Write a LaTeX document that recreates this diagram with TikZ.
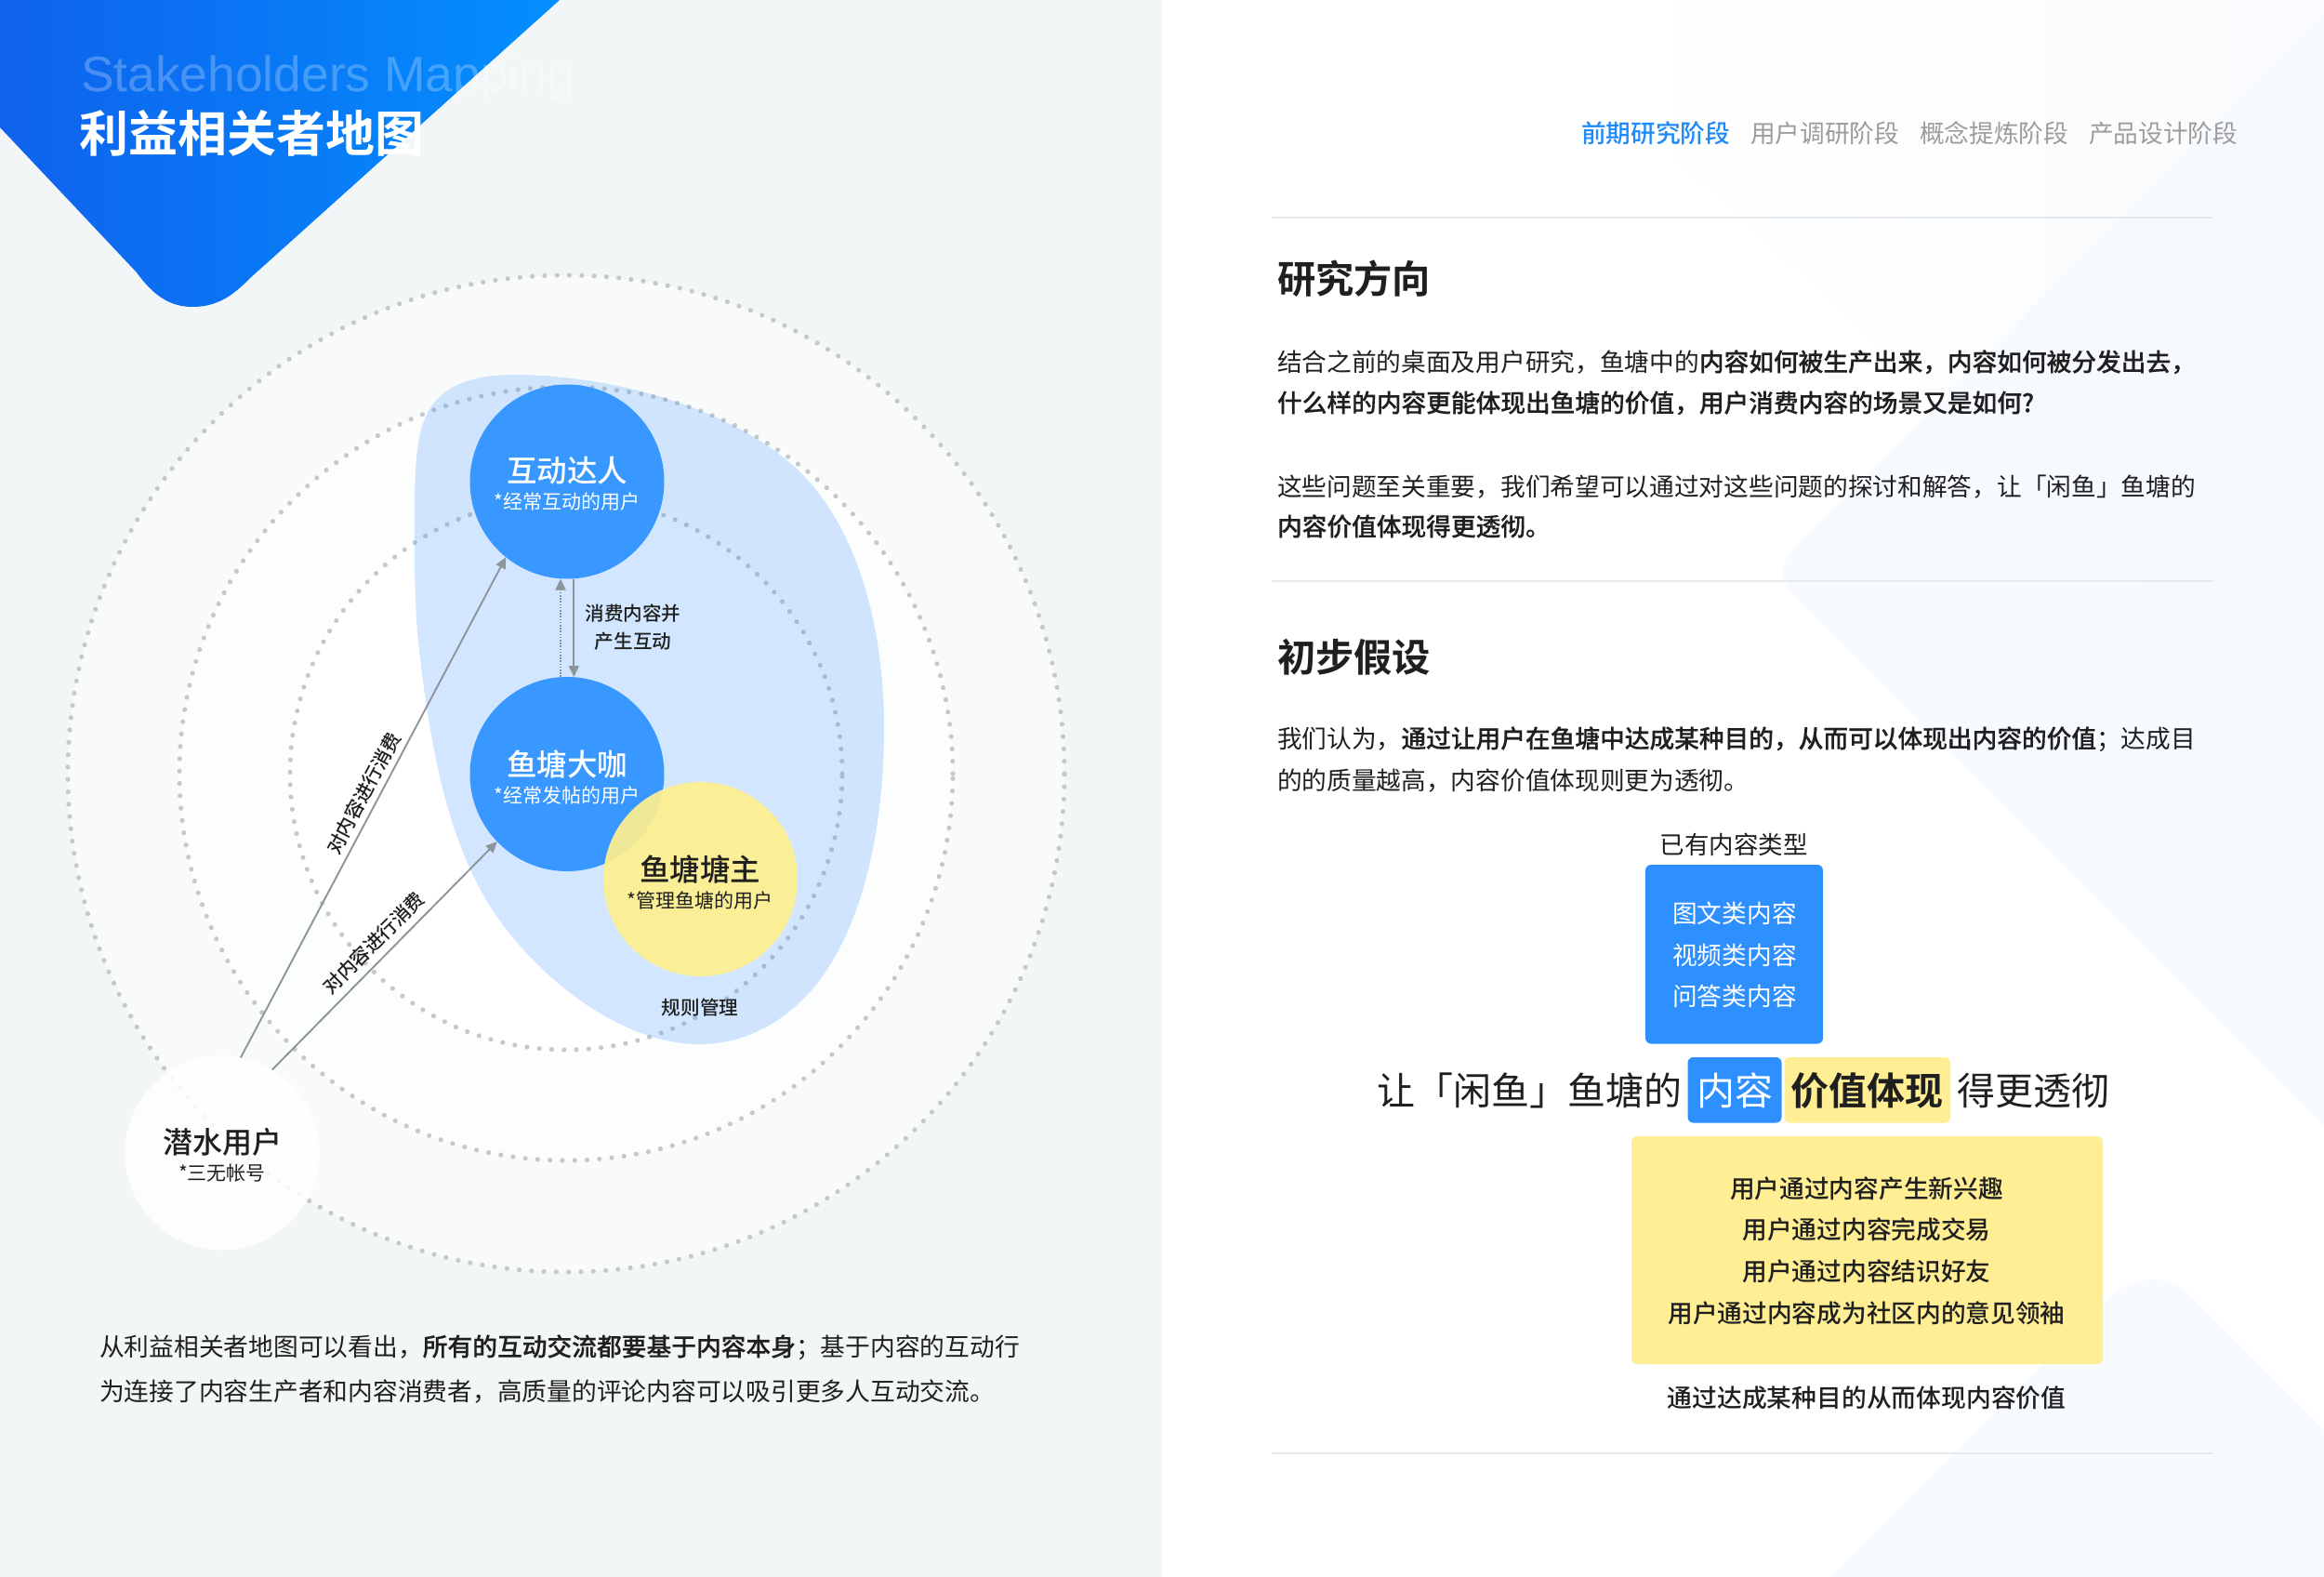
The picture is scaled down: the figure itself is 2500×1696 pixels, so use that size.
\documentclass[tikz,border=0pt]{standalone}
\usepackage{fontspec}
\usetikzlibrary{arrows.meta}
\setmainfont{Noto Sans CJK SC}[BoldFont={Noto Sans CJK SC Medium},BoldFeatures={FakeBold=0.35}]
\newfontfamily\cjkm{Noto Sans CJK SC Medium}
\newfontfamily\cjkb{Noto Sans CJK SC Bold}
\newfontfamily\latinf{Liberation Sans}
\newcommand{\szf}[1]{\fontsize{#1}{#1}\selectfont}
\definecolor{pagebg}{HTML}{F3F6F7}
\definecolor{bluec}{HTML}{3898FF}
\definecolor{boxblue}{HTML}{2E90FF}
\definecolor{yellowc}{HTML}{FEEF8F}
\definecolor{boxyellow}{HTML}{FFEE93}
\definecolor{ink}{HTML}{1F1F1F}
\definecolor{dotc}{HTML}{C6C9CB}
\definecolor{linkc}{HTML}{8D949A}
\definecolor{rulec}{HTML}{E6E9EE}
\definecolor{tabblue}{HTML}{1F8BFA}
\definecolor{tabgray}{HTML}{9C9C9C}
\definecolor{faint}{HTML}{F5F9FE}
\definecolor{fadec}{HTML}{F9FBFE}
\definecolor{ringa}{HTML}{F9FBFB}
\definecolor{ringb}{HTML}{FCFDFD}
\definecolor{grada}{HTML}{0F62EC}
\definecolor{gradb}{HTML}{038FFF}
\tikzset{
  tr/.style={font=\szf{#1}, inner sep=0pt, outer sep=0pt, text height=0.88*#1 pt, text depth=0.12*#1 pt, text=ink},
  tm/.style={font=\cjkm\szf{#1}, inner sep=0pt, outer sep=0pt, text height=0.88*#1 pt, text depth=0.12*#1 pt, text=ink},
  tb/.style={font=\cjkb\szf{#1}, inner sep=0pt, outer sep=0pt, text height=0.88*#1 pt, text depth=0.12*#1 pt, text=ink},
  ring/.style={circle, minimum size=#1, inner sep=0pt, outer sep=0pt, draw=dotc, line width=5.2pt, line cap=round, dash pattern=on 0.01pt off 13.3pt},
  disc/.style={circle, minimum size=209pt, inner sep=0pt, outer sep=0pt},
  link/.style={draw=linkc, line width=1.9pt, -{Triangle[length=12pt,width=11pt]}},
  rule/.style={draw=rulec, line width=2pt},
  bx/.style={rounded corners=6pt, inner sep=0pt, outer sep=0pt},
}
\begin{document}
\begin{tikzpicture}[x=1pt,y=-1pt]
\useasboundingbox (0,0) rectangle (2500,1696);
% pages
\fill[white] (0,0) rectangle (2500,1696);
\fill[pagebg] (0,0) rectangle (1250,1696);
% faint page shapes on the right
\shade[left color=white, right color=fadec] (1700,75) -- (2500,810) -- (2500,0) -- (1700,0) -- cycle;
\fill[faint, opacity=.7] (2500,15) -- (1929,590) .. controls (1915,605) and (1915,625) .. (1929,640) -- (2500,1211) -- cycle;
\fill[faint, opacity=.75] (1969,1696) -- (2270,1395) .. controls (2295,1372) and (2325,1370) .. (2350,1388) -- (2500,1537) -- (2500,1696) -- cycle;
% header triangle
\shade[left color=grada, right color=gradb] (0,0) -- (602,0) -- (268,300) .. controls (246,323) and (228,330) .. (207,330) .. controls (183,330) and (165,318) .. (147,293) -- (0,137) -- cycle;
\node[tr=53.4, font=\latinf\szf{53.4}, text=white, text opacity=.25, anchor=west] (entitle) at (87,78) {Stakeholders Mapping};
\node[tb=53, text=white, anchor=west] (cntitle) at (85,143) {利益相关者地图};
% rings
\node[ring=1072pt, fill=ringa] (r1) at (609,832) {};
\node[ring=832pt, fill=ringb] (r2) at (609,832) {};
\node[ring=594pt, fill=white] (r3) at (609,832) {};
% blob
\fill[boxblue, opacity=.21] (446,574) .. controls (446,510) and (445,460) .. (467,433)
  .. controls (485,410) and (520,403) .. (553,403)
  .. controls (660,403) and (790,440) .. (859,506)
  .. controls (925,570) and (951,680) .. (951,782)
  .. controls (951,900) and (925,1000) .. (878,1059)
  .. controls (840,1105) and (795,1123) .. (752,1123)
  .. controls (680,1123) and (600,1070) .. (545,1000)
  .. controls (490,930) and (465,830) .. (450,690)
  .. controls (446,650) and (446,610) .. (446,574) -- cycle;
% discs
\node[disc, fill=bluec] (top) at (610,518) {};
\node[disc, fill=bluec] (mid) at (610,832.5) {};
\node[disc, fill=yellowc, fill opacity=.92] (own) at (753.5,945.5) {};
\node[disc, fill=white, fill opacity=.85] (lurk) at (239,1240) {};
% disc labels
\node[tm=32.5, text=white] (topa) at (610,506) {互动达人};
\node[tr=21, text=white] (topb) at (610,540) {*经常互动的用户};
\node[tm=32.5, text=white] (mida) at (610,822) {鱼塘大咖};
\node[tr=21, text=white] (midb) at (610,856) {*经常发帖的用户};
\node[tm=32.5] (owna) at (753,935) {鱼塘塘主};
\node[tr=21] (ownb) at (753,969) {*管理鱼塘的用户};
\node[tm=32] (lurka) at (239,1228) {潜水用户};
\node[tr=21] (lurkb) at (239,1262) {*三无帐号};
% links
\draw[link] (lurk.79.3) -- (top.231.8);
\draw[link] (lurk.59.8) -- (mid.224.8);
\draw[link, dash pattern=on 1.6pt off 1.6pt, line width=2pt] ([xshift=-7pt]mid.north) -- ([xshift=-7pt]top.south);
\draw[link] ([xshift=7.4pt]top.south) -- ([xshift=7.4pt]mid.north);
% link labels
\node[tm=20.6] (la) at (681,660) {消费内容并};
\node[tm=20.6] (lb) at (681,690) {产生互动};
\node[tm=20.6] (lc) at (753,1084) {规则管理};
\node[tm=20.6, rotate=62] (ld) at (391,853) {对内容进行消费};
\node[tm=20.6, rotate=45] (le) at (402,1014) {对内容进行消费};
% left caption
\node[tr=26.75, anchor=west] (capa) at (107,1448) {从利益相关者地图可以看出，\textbf{所有的互动交流都要基于内容本身}；基于内容的互动行};
\node[tr=26.75, anchor=west] (capb) at (107,1496) {为连接了内容生产者和内容消费者，高质量的评论内容可以吸引更多人互动交流。};
% tabs
\node[tm=26.7, text=tabblue, anchor=west] (t1) at (1701,143) {前期研究阶段};
\node[tr=26.7, text=tabgray, anchor=west] (t2) at (1883,143) {用户调研阶段};
\node[tr=26.7, text=tabgray, anchor=west] (t3) at (2065,143) {概念提炼阶段};
\node[tr=26.7, text=tabgray, anchor=west] (t4) at (2247,143) {产品设计阶段};
% rules
\coordinate (ra) at (1368,234); \coordinate (rb) at (2381,234);
\coordinate (rc) at (1368,624.5); \coordinate (rd) at (2381,624.5);
\coordinate (re) at (1368,1562.5); \coordinate (rf) at (2381,1562.5);
\draw[rule] (ra) -- (rb); \draw[rule] (rc) -- (rd); \draw[rule] (re) -- (rf);
% section 1
\node[tb=41.3, anchor=west] (h1) at (1374,300) {研究方向};
\node[tr=26.7, anchor=west] (b1) at (1374,389) {结合之前的桌面及用户研究，鱼塘中的\textbf{内容如何被生产出来，内容如何被分发出去，}};
\node[tr=26.7, anchor=west, font=\bfseries\szf{26.7}] (b2) at (1374,433) {什么样的内容更能体现出鱼塘的价值，用户消费内容的场景又是如何?};
\node[tr=26.7, anchor=west] (b3) at (1374,523) {这些问题至关重要，我们希望可以通过对这些问题的探讨和解答，让「闲鱼」鱼塘的};
\node[tr=26.7, anchor=west, font=\bfseries\szf{26.7}] (b4) at (1374,566) {内容价值体现得更透彻。};
% section 2
\node[tb=41.3, anchor=west] (h2) at (1374,707) {初步假设};
\node[tr=26.7, anchor=west] (b5) at (1374,794) {我们认为，\textbf{通过让用户在鱼塘中达成某种目的，从而可以体现出内容的价值}；达成目};
\node[tr=26.7, anchor=west] (b6) at (1374,839) {的的质量越高，内容价值体现则更为透彻。};
% diagram on the right
\node[tr=26.5] (ct) at (1865,908) {已有内容类型};
\path[fill=boxblue, bx] (1770,930) rectangle (1961,1122.5);
\node[tr=26.7, text=white] (c1) at (1866,982) {图文类内容};
\node[tr=26.7, text=white] (c2) at (1866,1027) {视频类内容};
\node[tr=26.7, text=white] (c3) at (1866,1071) {问答类内容};
\path[fill=boxblue, bx] (1815.5,1137) rectangle (1916.5,1207.5);
\path[fill=boxyellow, bx] (1919.5,1137) rectangle (2098,1207.5);
\node[tr=41] (s1) at (1645,1173) {让「闲鱼」鱼塘的};
\node[tr=41, text=white] (s2) at (1866,1173) {内容};
\node[tb=41] (s3) at (2008,1173) {价值体现};
\node[tr=41] (s4) at (2187,1173) {得更透彻};
\path[fill=boxyellow, bx] (1755,1222) rectangle (2262,1467);
\node[tm=26.7] (v1) at (2008,1278) {用户通过内容产生新兴趣};
\node[tm=26.7] (v2) at (2008,1322) {用户通过内容完成交易};
\node[tm=26.7] (v3) at (2008,1367) {用户通过内容结识好友};
\node[tm=26.7] (v4) at (2008,1412) {用户通过内容成为社区内的意见领袖};
\node[tm=26.8] (vc) at (2008,1503) {通过达成某种目的从而体现内容价值};
\end{tikzpicture}
\end{document}
